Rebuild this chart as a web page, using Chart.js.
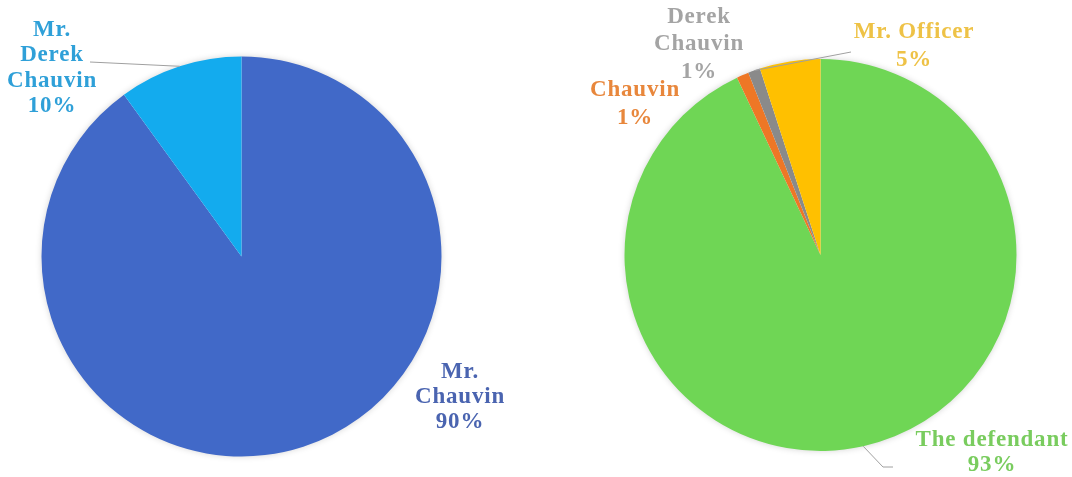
<!DOCTYPE html>
<html>
<head>
<meta charset="utf-8">
<script src="https://cdn.jsdelivr.net/npm/chart.js@4.4.1/dist/chart.umd.min.js"></script>
<style>
    html, body { margin: 0; padding: 0; background: #ffffff; }
    #wrap { position: relative; width: 1072px; height: 477px; overflow: hidden; }
    canvas { position: absolute; top: 0; }
    #leftPie { left: 0; }
    #rightPie { left: 536px; }
</style>
</head>
<body>
<div id="wrap">
    <canvas id="leftPie" width="536" height="477"></canvas>
    <canvas id="rightPie" width="536" height="477"></canvas>
</div>
<script>
// how the officer is referred to - first chart
const leftNames = ['Mr. Chauvin', 'Mr. Derek Chauvin'];
const leftValues = [90, 10];
const leftColors = ['#4169C8', '#13ABEE'];
const leftTextColors = ['#4A64B0', '#2FA0D8'];
const leftLines = [['Mr.', 'Chauvin'], ['Mr.', 'Derek', 'Chauvin']];

// second chart
const rightNames = ['The defendant', 'Chauvin', 'Derek Chauvin', 'Mr. Officer'];
const rightValues = [93, 1, 1, 5];
const rightColors = ['#6FD655', '#EE7726', '#8A8A8A', '#FFC000'];
const rightTextColors = ['#79CC5E', '#E8873C', '#A4A4A4', '#EEC246'];
const rightLines = [['The defendant'], ['Chauvin'], ['Derek', 'Chauvin'], ['Mr. Officer']];

// label placement, canvas-local pixels: first line centre, line step, optional leader
const leftPlacement = [
    { x: 460, y: 372, step: 25 },
    { x: 52, y: 30, step: 25.5, leader: [[90, 62]] }
];
const rightPlacement = [
    { x: 456, y: 440, step: 25, leader: [[347, 467], [357, 467]] },
    { x: 99, y: 90, step: 28 },
    { x: 163, y: 17, step: 27.5, leader: [[315, 52]] },
    { x: 378, y: 32, step: 28 }
];

const FONT = 'bold 23px "Liberation Serif", "Times New Roman", serif';

const pieShadow = {
    id: 'pieShadow',
    beforeDatasetsDraw(chart) {
        const arc = chart.getDatasetMeta(0).data[0];
        if (!arc) return;
        const ctx = chart.ctx;
        ctx.save();
        ctx.shadowColor = 'rgba(0, 0, 0, 0.22)';
        ctx.shadowBlur = 7;
        ctx.fillStyle = '#ffffff';
        ctx.beginPath();
        ctx.arc(arc.x, arc.y, arc.outerRadius - 1, 0, Math.PI * 2);
        ctx.fill();
        ctx.restore();
    }
};

const sliceLabels = {
    id: 'sliceLabels',
    afterDraw(chart, args, opts) {
        const ctx = chart.ctx;
        const meta = chart.getDatasetMeta(0);
        const values = chart.data.datasets[0].data;
        ctx.save();
        meta.data.forEach((arc, i) => {
            const place = opts.placement[i];
            if (place.leader) {
                const mid = (arc.startAngle + arc.endAngle) / 2;
                ctx.strokeStyle = '#A0A0A0';
                ctx.lineWidth = 1;
                ctx.beginPath();
                ctx.moveTo(arc.x + Math.cos(mid) * arc.outerRadius, arc.y + Math.sin(mid) * arc.outerRadius);
                place.leader.forEach(p => ctx.lineTo(p[0], p[1]));
                ctx.stroke();
            }
            const lines = opts.lines[i].concat([values[i] + '%']);
            ctx.font = FONT;
            ctx.letterSpacing = '0.8px';
            ctx.fillStyle = opts.textColors[i];
            ctx.textAlign = 'center';
            ctx.textBaseline = 'middle';
            lines.forEach((t, k) => ctx.fillText(t, place.x, place.y + k * place.step));
        });
        ctx.restore();
    }
};

function makePie(id, names, values, colors, textColors, lines, placement, padding) {
    const ctx = document.getElementById(id).getContext('2d');
    return new Chart(ctx, {
        type: 'pie',
        data: {
            labels: names,
            datasets: [{
                data: values,
                backgroundColor: colors,
                borderWidth: 0
            }]
        },
        options: {
            responsive: false,
            animation: false,
            layout: { padding: padding },
            plugins: {
                legend: { display: false },
                tooltip: { enabled: false },
                sliceLabels: { lines: lines, textColors: textColors, placement: placement }
            }
        },
        plugins: [pieShadow, sliceLabels]
    });
}

makePie('leftPie', leftNames, leftValues, leftColors, leftTextColors, leftLines, leftPlacement,
    { left: 41.5, right: 94.5, top: 56.5, bottom: 20.5 });
makePie('rightPie', rightNames, rightValues, rightColors, rightTextColors, rightLines, rightPlacement,
    { left: 88.5, right: 55.5, top: 59, bottom: 26 });
</script>
</body>
</html>
